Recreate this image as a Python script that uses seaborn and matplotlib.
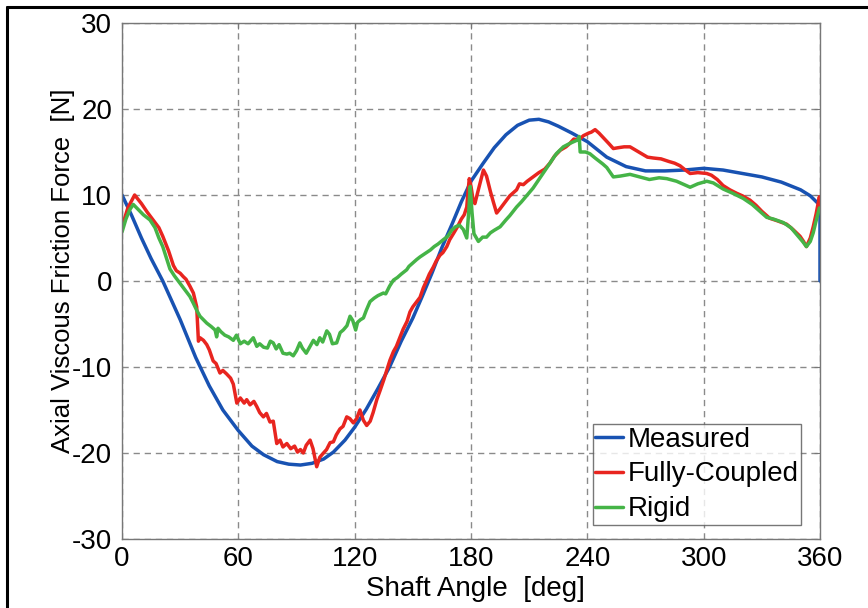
import matplotlib
matplotlib.use("Agg")
import matplotlib.pyplot as plt
from matplotlib.lines import Line2D
import seaborn as sns

# Measured
meas_ang = [0, 5, 10, 15, 21, 30, 38, 45, 52, 60, 67, 73, 80, 86, 92, 98, 104, 109,
            115, 120, 126, 132, 138, 144, 150, 155, 160, 165, 170, 175, 180, 186, 192,
            198, 204, 210, 215, 220, 225, 232, 240, 250, 260, 270, 280, 290, 300, 310,
            320, 330, 340, 350, 355, 360, 360]
meas_val = [10.0, 7.6, 5.0, 2.6, 0.0, -4.5, -8.9, -12.2, -15.0, -17.4, -19.2, -20.2,
            -21.0, -21.3, -21.4, -21.2, -20.7, -19.9, -18.5, -17.0, -14.9, -12.5, -10.0,
            -7.0, -4.3, -1.7, 1.0, 3.9, 6.5, 9.2, 11.6, 13.6, 15.5, 17.0, 18.1, 18.7,
            18.8, 18.5, 18.0, 17.2, 16.2, 14.4, 13.3, 12.8, 12.8, 12.9, 13.1, 12.9, 12.5,
            12.1, 11.5, 10.6, 9.9, 8.8, 0.0]

# Fully-Coupled
fc_ang = [0, 3, 6.5, 10, 13, 16, 19, 21, 24, 26.5, 28, 30, 31.6, 33, 35, 36.8, 38.5,
          39.4, 40.2, 42, 43.7, 45, 47, 48.5, 50.5, 52, 53.9, 56, 57.4, 59.2, 61, 63,
          64.3, 66, 68, 69.5, 71, 72.9, 74.5, 76.3, 78, 79.8, 81.5, 83, 85, 87, 89,
          90.5, 92, 93.5, 95, 97, 98.5, 100.4, 102, 103.9, 105.5, 107.3, 109, 110.5,
          112.4, 114, 115.9, 117.5, 119.3, 121, 122.7, 124.5, 126.2, 128, 129.5, 131.4,
          133, 135, 136.5, 138.2, 140, 141.5, 143.4, 145, 147, 148.5, 150, 152, 153.7,
          155.4, 157, 158.5, 160.5, 162, 164, 165.5, 167.5, 169, 170.9, 173, 175, 176.5,
          177.8, 178.5, 179.1, 180, 181, 182, 184, 186.4, 188, 190, 191.5, 193.2, 195,
          198, 200, 202, 203.5, 205, 207, 209, 212, 215, 218, 220.7, 223, 226, 229, 231,
          233, 235.5, 238, 240.7, 242, 244, 246, 248.5, 251, 253.4, 256, 259, 262, 265,
          268, 271, 274, 278, 282, 285, 287.8, 290, 293, 297, 301.6, 304, 307, 310,
          313.5, 317, 320, 323.9, 327, 330, 334, 338, 342.8, 346, 349.7, 351.5, 353,
          355, 356.5, 358, 359.7, 360]
fc_val = [6.3, 8.5, 10.0, 9.0, 8.0, 7.1, 6.2, 5.2, 3.5, 1.8, 1.2, 0.9, 0.5, 0.2, -0.6,
          -1.4, -3.0, -7.0, -6.6, -6.9, -7.4, -8.0, -9.3, -9.6, -10.7, -10.4, -10.8,
          -11.3, -12.0, -14.2, -13.6, -14.2, -13.8, -14.4, -14.0, -14.6, -15.3, -15.8,
          -15.4, -16.4, -16.3, -18.9, -18.5, -19.3, -18.9, -19.5, -19.2, -19.9, -19.6,
          -20.0, -19.1, -18.5, -19.5, -21.6, -20.5, -20.0, -19.6, -18.8, -18.7, -17.9,
          -17.2, -16.9, -15.8, -16.0, -16.5, -16.0, -15.0, -16.2, -16.8, -16.3, -15.3,
          -13.8, -12.8, -11.5, -10.4, -9.2, -8.2, -7.6, -6.5, -5.6, -4.7, -3.6, -3.0,
          -2.4, -1.9, -0.8, 0.0, 0.8, 1.6, 2.3, 3.0, 3.3, 4.0, 4.8, 5.5, 6.3, 7.2, 7.7,
          8.6, 10.5, 11.9, 11.0, 9.5, 9.0, 10.8, 12.9, 12.2, 10.4, 9.2, 7.9, 8.4, 9.3,
          9.9, 10.3, 10.6, 11.3, 11.2, 11.6, 12.1, 12.6, 13.0, 13.7, 14.5, 15.2, 15.6,
          16.0, 16.5, 16.4, 16.9, 17.2, 17.3, 17.6, 17.2, 16.6, 16.0, 15.4, 15.5, 15.6,
          15.6, 15.2, 14.8, 14.4, 14.3, 14.2, 13.9, 13.7, 13.4, 13.0, 12.5, 12.6, 12.5,
          12.3, 11.8, 11.1, 10.6, 10.2, 9.9, 9.4, 8.8, 8.1, 7.3, 7.0, 6.6, 6.0, 5.2,
          4.6, 4.0, 5.0, 6.3, 7.8, 9.8, 8.8]

# Rigid
rig_ang = [0, 2, 4, 5.8, 8, 11, 14.4, 17, 19, 21, 23, 24.7, 27, 30, 32, 35, 36.8, 38.5,
           40.2, 43.7, 46, 48, 48.8, 49.5, 51, 53, 55, 57.4, 59, 61, 63, 65, 67.7, 69.5,
           71, 73, 75, 76.5, 78, 79.5, 81, 83, 85, 86.5, 88.3, 90, 91.7, 93, 95, 97,
           98.7, 100.5, 102, 103.5, 105.6, 107, 108.5, 110.7, 112.5, 114.1, 116, 117.6,
           119, 120.5, 121.5, 123, 124.5, 126, 127.9, 130, 132, 134.8, 136, 138, 140,
           142, 144, 146.8, 148, 150, 152, 153.7, 155, 157, 159, 161, 163, 165.7, 168,
           170, 172, 174, 176, 177.8, 178.8, 179.6, 180.5, 181.5, 183.8, 186, 188, 190,
           192, 195, 198, 200, 203.5, 206, 209, 212, 215, 218, 220.7, 224, 227.6, 231,
           235, 235.8, 236.3, 239, 241.3, 244, 248, 250, 253.4, 257, 262, 267, 272, 277,
           281, 286, 290, 293, 297, 301.6, 305, 310, 315, 320.4, 325, 329, 332.5, 336,
           341, 345, 348, 351, 353, 355, 356.5, 358, 359.7]
rig_val = [5.7, 7.2, 8.3, 8.9, 8.4, 7.7, 7.1, 6.2, 5.0, 4.0, 2.6, 1.4, 0.6, -0.3, -0.9,
           -1.8, -2.6, -3.4, -4.1, -4.9, -5.3, -5.7, -6.5, -5.5, -5.9, -6.3, -6.5, -6.9,
           -6.3, -7.3, -7.0, -7.3, -6.6, -7.6, -7.3, -7.7, -7.8, -7.0, -7.2, -7.9, -7.4,
           -8.4, -8.5, -8.4, -8.7, -8.1, -7.2, -7.8, -8.4, -7.6, -6.9, -7.4, -6.6, -7.1,
           -5.8, -6.2, -7.3, -7.2, -6.0, -5.7, -5.2, -4.1, -4.6, -5.7, -4.8, -4.5, -4.3,
           -3.4, -2.4, -2.0, -1.7, -1.4, -1.5, -0.6, 0.1, 0.4, 0.8, 1.3, 1.7, 2.1, 2.5,
           2.8, 3.0, 3.3, 3.6, 4.0, 4.3, 4.8, 5.2, 5.9, 6.3, 6.5, 6.0, 5.0, 8.0, 11.0,
           8.0, 5.5, 4.6, 5.1, 5.1, 5.6, 5.9, 6.3, 7.1, 7.6, 8.6, 9.2, 10.0, 10.8, 11.8,
           12.8, 13.7, 14.8, 15.6, 16.0, 16.4, 16.8, 15.0, 15.0, 14.8, 14.3, 13.6, 13.2,
           12.1, 12.2, 12.4, 12.1, 11.8, 12.0, 11.9, 11.6, 11.2, 10.9, 11.3, 11.6, 11.4,
           10.7, 10.2, 9.6, 8.9, 8.1, 7.4, 7.2, 6.8, 6.2, 5.4, 4.6, 4.0, 4.6, 5.6, 7.0,
           8.5]

x_ticks = [0, 60, 120, 180, 240, 300, 360]
y_ticks = [-30, -20, -10, 0, 10, 20, 30]

sns.set_style("white")
plt.rcParams['font.family'] = ['Liberation Sans', 'DejaVu Sans']
plt.rcParams['axes.unicode_minus'] = False
plt.rcParams['text.color'] = 'black'
plt.rcParams['axes.labelcolor'] = 'black'

fig = plt.figure(figsize=(8.68, 6.08), dpi=100)
ax = fig.add_axes([0.1406, 0.1135, 0.8041, 0.8487])

sns.lineplot(x=meas_ang, y=meas_val, ax=ax, color='#1852b2', linewidth=2.5,
             sort=False, estimator=None, label='Measured')
sns.lineplot(x=fc_ang, y=fc_val, ax=ax, color='#e8251f', linewidth=2.5,
             sort=False, estimator=None, label='Fully-Coupled')
sns.lineplot(x=rig_ang, y=rig_val, ax=ax, color='#45b447', linewidth=2.5,
             sort=False, estimator=None, label='Rigid')

ax.set_xlim(0, 360)
ax.set_ylim(-30, 30)
ax.set_xticks(x_ticks)
ax.set_yticks(y_ticks)
ax.grid(True, color='#8a8a8a', linewidth=1.0, linestyle=(0, (4.5, 3.5)))
for s in ax.spines.values():
    s.set_color('#777777')
    s.set_linewidth(1.0)
ax.tick_params(direction='in', length=4, width=0.8, color='#777777',
               top=True, right=True, labelsize=20, labelcolor='black')
ax.tick_params(axis='y', pad=7)
ax.tick_params(axis='x', pad=5)

ax.set_xlabel('Shaft Angle  [deg]', fontsize=20, color='black')
ax.set_ylabel('Axial Viscous Friction Force  [N]', fontsize=18.5, color='black')
ax.xaxis.set_label_coords(0.507, -0.072)
ax.yaxis.set_label_coords(-0.067, 0.519)

leg = ax.legend(loc='lower right', bbox_to_anchor=(0.973, 0.027), fontsize=20,
                frameon=True, fancybox=False, handlelength=1.0, handletextpad=0.15,
                labelspacing=0.32, borderpad=0.1, borderaxespad=0.0)
leg.get_frame().set_edgecolor('#555555')
leg.get_frame().set_linewidth(1.0)

# frame border of the original image (top and left edges)
fig.add_artist(Line2D([0.008, 0.008], [0, 0.988], transform=fig.transFigure,
                      color='black', linewidth=2.2))
fig.add_artist(Line2D([0.008, 1.0], [0.988, 0.988], transform=fig.transFigure,
                      color='black', linewidth=2.2))

fig.savefig('out.png', dpi=100)
